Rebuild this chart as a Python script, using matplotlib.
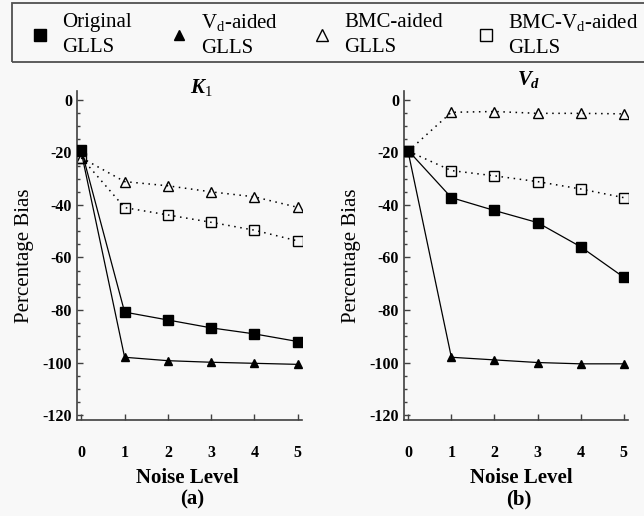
import matplotlib
matplotlib.use("Agg")
import matplotlib.pyplot as plt
from matplotlib.lines import Line2D
from matplotlib.patches import Rectangle
from matplotlib.ticker import MultipleLocator

plt.rcParams['font.family'] = ['Liberation Serif', 'DejaVu Serif']
plt.rcParams['mathtext.fontset'] = 'custom'
plt.rcParams['mathtext.rm'] = 'Liberation Serif'
plt.rcParams['mathtext.it'] = 'Liberation Serif:italic:bold'
plt.rcParams['mathtext.bf'] = 'Liberation Serif:bold'
plt.rcParams['axes.unicode_minus'] = False

BG = '#f8f8f8'
INK = '#404040'

# noise levels
noise = [0, 1, 2, 3, 4, 5]

# (a) K1 percentage bias
k1_original = [-19.0, -80.8, -83.8, -86.8, -89.1, -92.0]
k1_vd = [-20.0, -98.0, -99.3, -99.9, -100.3, -100.7]
k1_bmc = [-22.0, -31.1, -32.7, -35.0, -36.9, -40.9]
k1_bmc_vd = [-22.0, -41.0, -43.8, -46.6, -49.6, -53.7]

# (b) Vd percentage bias
vd_original = [-19.3, -37.2, -42.1, -46.7, -55.9, -67.5]
vd_vd = [-20.0, -98.0, -99.0, -100.0, -100.5, -100.5]
vd_bmc = [-19.5, -4.7, -4.4, -5.1, -5.1, -5.3]
vd_bmc_vd = [-19.5, -26.9, -28.9, -31.1, -33.9, -37.2]

legend_labels = ['Original\nGLLS', 'V$_\\mathrm{d}$-aided\nGLLS',
                 'BMC-aided\nGLLS', 'BMC-V$_\\mathrm{d}$-aided\nGLLS']

fig = plt.figure(figsize=(6.44, 5.16), dpi=100, facecolor=BG)
ax1 = fig.add_axes([0.1196, 0.186, 0.3494, 0.6376])
ax2 = fig.add_axes([0.6273, 0.186, 0.3478, 0.6376])

dot = (0, (1, 3))


def draw_panel(ax, orig, vd, bmc, bmcvd, title, tx, ty, sub, lx, sx):
    ax.set_facecolor(BG)
    ax.plot(noise, bmc, linestyle=dot, color='black', lw=1.1, marker='^',
            ms=7, mfc='none', mec='black', mew=1.0, zorder=2)
    ax.plot(noise, bmcvd, linestyle=dot, color='black', lw=1.1, marker='s',
            ms=7, mfc='none', mec='black', mew=1.0, zorder=2)
    ax.plot(noise, vd, '-', color='black', lw=0.9, marker='^', ms=6,
            mfc='black', mec='black', zorder=3)
    ax.plot(noise, orig, '-', color='black', lw=0.9, marker='s', ms=7.5,
            mfc='black', mec='black', zorder=4)

    ax.set_xlim(-0.1, 5.1)
    ax.set_ylim(-121.9, 3.4)
    ax.set_xticks(noise)
    ax.yaxis.set_major_locator(MultipleLocator(20))
    ax.yaxis.set_minor_locator(MultipleLocator(5))
    for s in ['top', 'right']:
        ax.spines[s].set_visible(False)
    for s in ['left', 'bottom']:
        ax.spines[s].set_color(INK)
        ax.spines[s].set_linewidth(1.2)
    ax.tick_params(axis='y', which='major', direction='in', length=4,
                   width=1, color=INK, pad=3.5, labelsize=11.5)
    ax.tick_params(axis='y', which='minor', direction='in', length=2.5,
                   width=1, color=INK)
    ax.tick_params(axis='x', which='major', direction='in', length=4,
                   width=1, color=INK, pad=18, labelsize=11.5)
    for lab in ax.get_xticklabels() + ax.get_yticklabels():
        lab.set_fontweight('bold')

    ax.set_ylabel('Percentage Bias', fontsize=15)
    ax.yaxis.set_label_coords(-0.19, 0.5)
    ax.text(tx, ty, title, transform=ax.transAxes, ha='center',
            va='baseline', fontsize=15)
    ax.text(lx, -0.1915, 'Noise Level', transform=ax.transAxes,
            ha='center', va='baseline', fontsize=15, fontweight='bold')
    ax.text(sx, -0.257, sub, transform=ax.transAxes, ha='center',
            va='baseline', fontsize=15, fontweight='bold')


draw_panel(ax1, k1_original, k1_vd, k1_bmc, k1_bmc_vd,
           r'$K_{\mathit{1}}$', 0.551, 0.994, '(a)', 0.488, 0.51)
draw_panel(ax2, vd_original, vd_vd, vd_bmc, vd_bmc_vd,
           r'$V_d$', 0.558, 1.018, '(b)', 0.525, 0.513)

# legend frame across the top
fig.add_artist(Rectangle((0.0186, 0.8798), 1.0, 0.1143,
                         transform=fig.transFigure, fill=False,
                         ec='#505050', lw=1.3))

handles = [
    Line2D([], [], ls='none', marker='s', ms=8, mfc='black', mec='black'),
    Line2D([], [], ls='none', marker='^', ms=7.5, mfc='black', mec='black'),
    Line2D([], [], ls='none', marker='^', ms=8, mfc='none', mec='black',
           mew=1.0),
    Line2D([], [], ls='none', marker='s', ms=8.5, mfc='none', mec='black',
           mew=1.0),
]
anchors = [29.6, 168.6, 311.6, 475.6]
for h, lab, xa in zip(handles, legend_labels, anchors):
    leg = fig.legend(handles=[h], labels=[lab], loc='center left',
                     bbox_to_anchor=(xa / 644, 0.932), frameon=False,
                     borderpad=0, borderaxespad=0, handlelength=1.0,
                     handletextpad=0.56, fontsize=15)
    for t in leg.get_texts():
        t.set_linespacing(1.45)

fig.savefig('out.png', dpi=100, facecolor=BG)
